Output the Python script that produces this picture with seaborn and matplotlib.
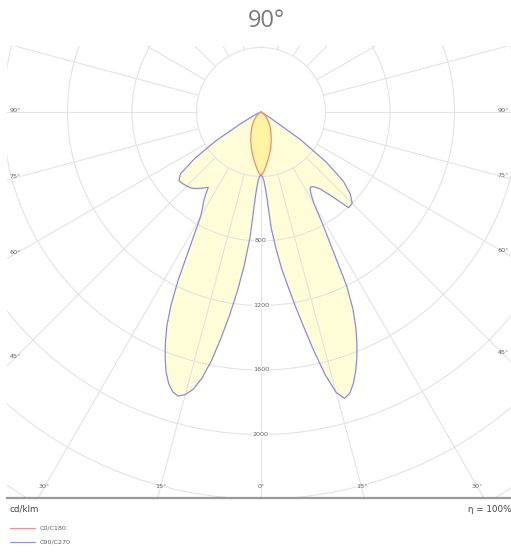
import numpy as np
import matplotlib
matplotlib.use("Agg")
import matplotlib.pyplot as plt
from matplotlib.lines import Line2D
import seaborn as sns
import pandas as pd

# ---------------- data (cd/klm) ----------------
angles = [0, 1.25, 2.5, 3.75, 5, 6.25, 7.5, 8.75, 10, 11.25, 12.5, 13.75, 15, 16.25, 17.5,
          18.75, 20, 21.25, 22.5, 23.75, 25, 26.25, 27.5, 28.75, 30, 31.25, 32.5, 33.75, 35,
          37.5, 40, 42.5, 45, 47.5, 50, 52.5, 55, 57.5, 60, 62.5, 65, 67.5, 70,
          75, 80, 85, 90]
c0_c180 = [390, 385, 372, 357, 340, 325, 310, 296, 282, 268, 255, 243, 232, 218, 205,
           195, 185, 174, 163, 155, 147, 138, 130, 122, 115, 107, 100, 94, 88,
           76, 65, 55, 46, 38, 31, 25, 20, 15, 11, 8, 6, 4, 3,
           1, 0, 0, 0]
c90 = [390, 400, 430, 510, 720, 850, 980, 1090, 1220, 1360, 1520, 1680, 1800, 1850, 1830,
       1780, 1715, 1640, 1555, 1460, 1350, 1200, 960, 800, 660, 600, 565, 558, 565,
       600, 680, 805, 800, 750, 665, 510, 300, 70, 15, 5, 0, 0, 0,
       0, 0, 0, 0]
c270 = [390, 400, 430, 520, 780, 960, 1120, 1270, 1420, 1570, 1690, 1770, 1815, 1835, 1820,
        1780, 1720, 1640, 1550, 1450, 1320, 1160, 980, 850, 750, 700, 665, 620, 570,
        595, 620, 640, 650, 658, 664, 630, 500, 330, 150, 70, 30, 12, 4,
        0, 0, 0, 0]
ring_values = [400, 800, 1200, 1600, 2000, 2400, 2800, 3200]
ring_labels = [800, 1200, 1600, 2000]
side_angle_labels = [90, 75, 60, 45]
bottom_angle_labels = [30, 15, 0]
series_names = ["C0/C180", "C90/C270"]
title_text = "90°"
unit_text = "cd/klm"
eta_text = "η = 100%"

# ---------------- layout ----------------
sns.set_style("white")
plt.rcParams["font.family"] = ["DejaVu Sans"]

W, H = 511, 555
fig = plt.figure(figsize=(W / 100, H / 100), dpi=100)
cx, cy = 261, 112
lpx, rpx, tpx, bpx = 7, 511, 46, 498
scale = 400 / 64.5  # cd/klm per pixel

ax = fig.add_axes([lpx / W, 1 - bpx / H, (rpx - lpx) / W, (bpx - tpx) / H])
ax.set_facecolor("white")

ang = np.asarray(angles, dtype=float)
phi = np.radians(np.concatenate([-ang[::-1], ang[1:]]))
I_blue = np.concatenate([np.asarray(c270, float)[::-1], np.asarray(c90, float)[1:]])
I_red = np.concatenate([np.asarray(c0_c180, float)[::-1], np.asarray(c0_c180, float)[1:]])
xb, yb = I_blue * np.sin(phi), -I_blue * np.cos(phi)
xr, yr = I_red * np.sin(phi), -I_red * np.cos(phi)

ax.fill(xb, yb, color="#FFFDD8", lw=0, zorder=1)
ax.fill(xr, yr, color="#FFF3A4", lw=0, zorder=1.2)

grid_c = "#E3E3E3"
for r in ring_values:
    ax.add_patch(plt.Circle((0, 0), r, fill=False, ec=grid_c, lw=0.8, zorder=2))
for a in range(0, 360, 15):
    t = np.radians(a)
    ax.plot([400 * np.sin(t), 5000 * np.sin(t)], [-400 * np.cos(t), -5000 * np.cos(t)],
            color=grid_c, lw=0.8, zorder=2)

df_b = pd.DataFrame({"x": xb, "y": yb})
df_r = pd.DataFrame({"x": xr, "y": yr})
sns.lineplot(data=df_b, x="x", y="y", sort=False, estimator=None, color="#8C8CDC",
             lw=0.9, ax=ax, zorder=4, solid_joinstyle="round")
sns.lineplot(data=df_r, x="x", y="y", sort=False, estimator=None, color="#F0906A",
             lw=0.9, ax=ax, zorder=4, solid_joinstyle="round")

xmin, xmax = (lpx - cx) * scale, (rpx - cx) * scale
ymin, ymax = -(bpx - cy) * scale, (cy - tpx) * scale
ax.set_xlim(xmin, xmax)
ax.set_ylim(ymin, ymax)
ax.set_xlabel("")
ax.set_ylabel("")
ax.set_xticks([])
ax.set_yticks([])
for s in ["top", "left", "right"]:
    ax.spines[s].set_visible(False)
ax.spines["bottom"].set_color("#9A9A9A")
ax.spines["bottom"].set_linewidth(1.6)

lab_c = "#606060"
fs_small = 4.6
# ring labels along 0 degrees
for v in ring_labels:
    ax.text(0, -v, str(v), ha="center", va="center", fontsize=fs_small, color=lab_c, zorder=5,
            bbox=dict(facecolor="white", edgecolor="none", pad=0.4))
# side angle labels
xl = (15 - cx) * scale
xrt = (503 - cx) * scale
for a in side_angle_labels:
    t = np.radians(a)
    yl = 0.0 if a == 90 else -abs(xl) / np.tan(t)
    yr_ = 0.0 if a == 90 else -abs(xrt) / np.tan(t)
    ax.text(xl, yl + 1.5 * scale, f"{a}°", ha="center", va="center", fontsize=fs_small,
            color=lab_c, zorder=5)
    ax.text(xrt, yr_ + 1.5 * scale, f"{a}°", ha="center", va="center", fontsize=fs_small,
            color=lab_c, zorder=5)
# bottom angle labels
yb_lab = -(487 - cy) * scale
for a in bottom_angle_labels:
    t = np.radians(a)
    xx = abs(yb_lab) * np.tan(t)
    ax.text(-xx, yb_lab, f"{a}°", ha="center", va="center", fontsize=fs_small, color=lab_c, zorder=5)
    if a != 0:
        ax.text(xx, yb_lab, f"{a}°", ha="center", va="center", fontsize=fs_small, color=lab_c, zorder=5)

# ---------------- texts outside the plot ----------------
def fx(px):
    return px / W


def fy(py):
    return 1 - py / H


fig.text(fx(266), fy(21), title_text, ha="center", va="center", fontsize=17, color="#7A7A7A",
         family=["Open Sans", "DejaVu Sans"])
fig.text(fx(9), fy(509), unit_text, ha="left", va="center", fontsize=6.3, color="#444444")
fig.text(fx(511), fy(509), eta_text, ha="right", va="center", fontsize=6.3, color="#444444")

leg_cols = ["#FF8C8C", "#8C8CFF"]
for name, col, py in zip(series_names, leg_cols, [528, 542]):
    fig.add_artist(Line2D([fx(10), fx(35)], [fy(py), fy(py)], color=col, lw=0.8,
                          transform=fig.transFigure))
    fig.text(fx(40), fy(py), name, ha="left", va="center", fontsize=4.6, color="#606060")

fig.savefig("out.png", dpi=100)
